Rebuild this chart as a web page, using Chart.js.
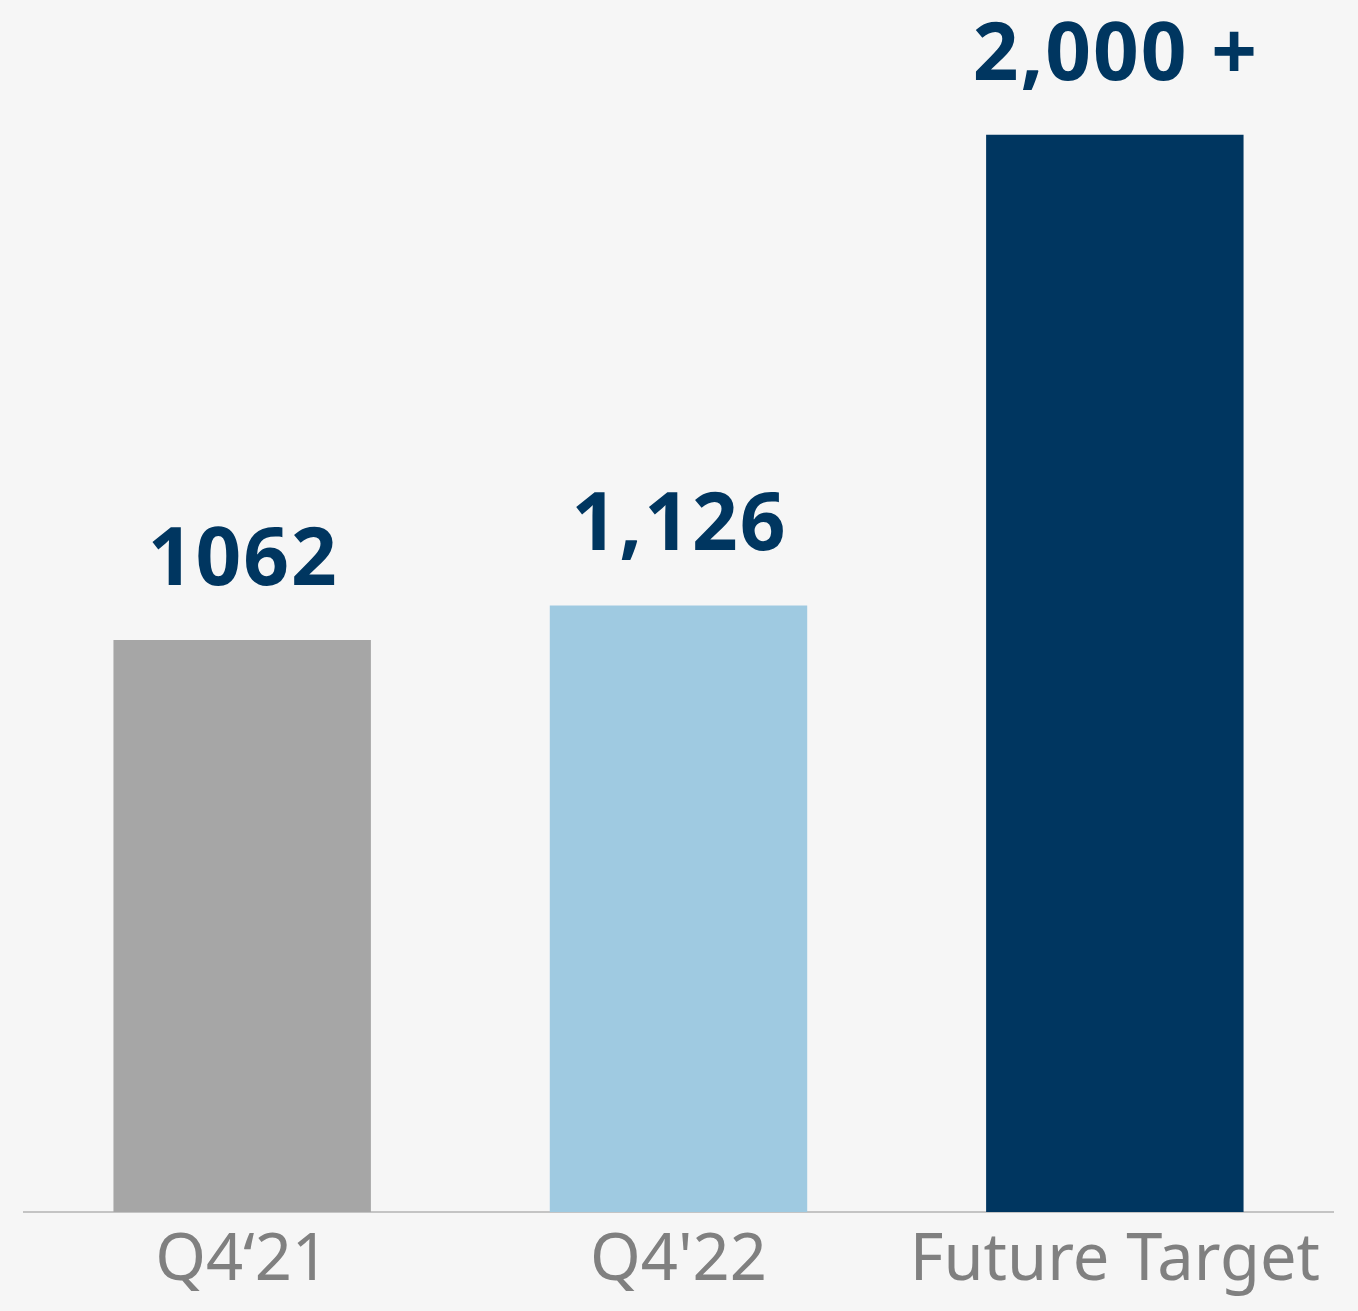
<!DOCTYPE html>
<html>
<head>
<meta charset="utf-8">
<script src="https://cdn.jsdelivr.net/npm/chart.js@4/dist/chart.umd.min.js"></script>
<style>
    html, body { margin: 0; padding: 0; background: #f6f6f6; }
    #wrap { width: 1358px; height: 1311px; position: relative; }
</style>
</head>
<body>
<div id="wrap"><canvas id="barChart"></canvas></div>
<script>
const categories = ["Q4\u201821", "Q4'22", "Future Target"];
const values = [1062, 1126, 2000];
const valueLabels = ["1062", "1,126", "2,000 +"];
const barColors = ["#a6a6a6", "#9fcae1", "#003660"];

document.addEventListener("DOMContentLoaded", function () {
    const ctx = document.getElementById("barChart").getContext("2d");

    // value labels above each bar
    const topLabels = {
        id: "topLabels",
        afterDatasetsDraw(chart) {
            const c = chart.ctx;
            const meta = chart.getDatasetMeta(0);
            c.save();
            c.font = "bold 80px 'Noto Sans'";
            c.letterSpacing = "2px";
            c.fillStyle = "#003660";
            c.textAlign = "center";
            c.textBaseline = "alphabetic";
            meta.data.forEach(function (bar, i) {
                c.fillText(valueLabels[i], bar.x + 1, bar.y - 55);
            });
            c.restore();
        }
    };

    new Chart(ctx, {
        type: "bar",
        data: {
            labels: categories,
            datasets: [
                {
                    data: values,
                    backgroundColor: barColors,
                    borderWidth: 0,
                    categoryPercentage: 1,
                    barPercentage: 0.59,
                },
            ],
        },
        options: {
            responsive: true,
            maintainAspectRatio: false,
            animation: false,
            layout: { padding: { left: 24, right: 25, top: 0, bottom: 0 } },
            plugins: { legend: { display: false }, tooltip: { enabled: false } },
            scales: {
                x: {
                    grid: { display: false, drawTicks: false },
                    border: { display: true, color: "#c4c4c4", width: 2 },
                    ticks: {
                        color: "#808080",
                        padding: 10.5,
                        font: { family: "'Noto Sans'", size: 65, lineHeight: 1.2 },
                    },
                },
                y: {
                    display: false,
                    min: 0,
                    max: 2250,
                },
            },
        },
        plugins: [topLabels],
    });
});
</script>
</body>
</html>
